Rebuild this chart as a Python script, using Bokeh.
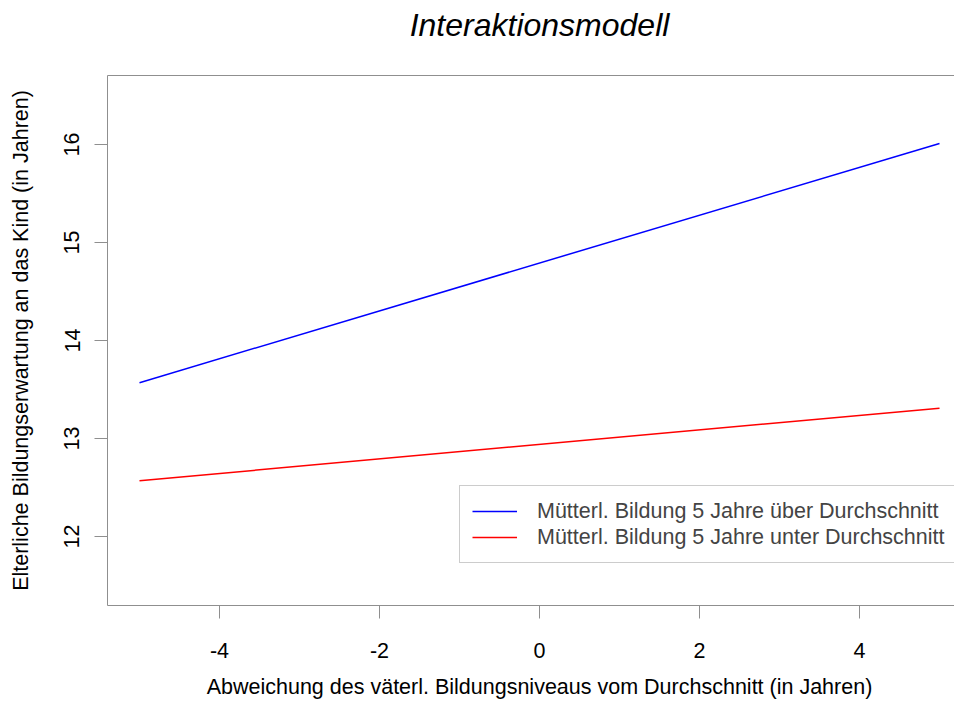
from bokeh.plotting import figure
from bokeh.models import Range1d, FixedTicker, LinearAxis, Legend, LegendItem
from bokeh.embed import file_html
from bokeh.resources import INLINE

# ---- data ----
title_text = "Interaktionsmodell"
x_label = "Abweichung des väterl. Bildungsniveaus vom Durchschnitt (in Jahren)"
y_label = "Elterliche Bildungserwartung an das Kind (in Jahren)"
series_labels = ["Mütterl. Bildung 5 Jahre über Durchschnitt",
                 "Mütterl. Bildung 5 Jahre unter Durchschnitt"]
father_dev = [-5, 5]
expect_above = [13.57, 16.01]
expect_below = [12.57, 13.31]
x_ticks = [-4, -2, 0, 2, 4]
x_tick_labels = ["-4", "-2", "0", "2", "4"]
y_ticks = [12, 13, 14, 15, 16]
y_tick_labels = ["12", "13", "14", "15", "16"]

FONT = "Liberation Sans"
GRAY = "#8f8f8f"
FS = "21.5px"

p = figure(width=954, height=702, output_backend="svg", toolbar_location=None,
           x_range=Range1d(-5.4, 5.1875), y_range=Range1d(11.297, 16.703),
           min_border_left=107, min_border_top=75, min_border_bottom=97,
           min_border_right=0, title=None)
p.outline_line_color = None
p.grid.visible = False
p.background_fill_color = "white"
p.border_fill_color = "white"

for ax, ticks, labels in ((p.xaxis[0], x_ticks, x_tick_labels),
                          (p.yaxis[0], y_ticks, y_tick_labels)):
    ax.ticker = FixedTicker(ticks=ticks)
    ax.major_label_overrides = {t: l for t, l in zip(ticks, labels)}
    ax.minor_tick_line_color = None
    ax.major_tick_in = 0
    ax.major_tick_out = 13
    ax.axis_line_color = GRAY
    ax.major_tick_line_color = GRAY
    ax.major_label_text_font = FONT
    ax.major_label_text_font_size = FS
    ax.major_label_text_color = "black"

p.xaxis.major_label_standoff = 24
p.yaxis.major_label_standoff = 15
p.yaxis.major_label_orientation = "vertical"
p.yaxis.axis_label = y_label
p.yaxis.axis_label_text_font = FONT
p.yaxis.axis_label_text_font_size = FS
p.yaxis.axis_label_text_font_style = "normal"
p.yaxis.axis_label_text_color = "black"
p.yaxis.axis_label_standoff = 29

# top border line + main title centred over the plot region (x = 0)
top = LinearAxis(ticker=FixedTicker(ticks=[0]), major_label_overrides={0: title_text},
                 major_label_text_font=FONT, major_label_text_font_size="32px",
                 major_label_text_font_style="italic", major_label_text_color="black",
                 major_tick_out=0, major_tick_in=0, major_tick_line_color=None,
                 major_label_standoff=33, minor_tick_line_color=None,
                 axis_line_color=GRAY)
p.add_layout(top, "above")

# x-axis title, centred over the plot region (x = 0)
xlab = LinearAxis(ticker=FixedTicker(ticks=[0]), major_label_overrides={0: x_label},
                  major_label_text_font=FONT, major_label_text_font_size=FS,
                  major_label_text_color="black", major_tick_out=0, major_tick_in=0,
                  major_tick_line_color=None, major_label_standoff=14,
                  minor_tick_line_color=None, axis_line_color=None)
p.add_layout(xlab, "below")

r1 = p.line(father_dev, expect_above, line_color="#0000FF", line_width=1.5)
r2 = p.line(father_dev, expect_below, line_color="#FF0000", line_width=1.5)

legend = Legend(items=[LegendItem(label=series_labels[0], renderers=[r1]),
                       LegendItem(label=series_labels[1], renderers=[r2])],
                location=(352, 42), border_line_color="#999999", border_line_width=1,
                padding=12, spacing=0, glyph_width=45, glyph_height=26,
                label_height=26, label_standoff=20, label_text_font=FONT,
                label_text_font_size=FS, margin=0, background_fill_alpha=1)
p.add_layout(legend)

open("out.html", "w").write(file_html(p, INLINE))
